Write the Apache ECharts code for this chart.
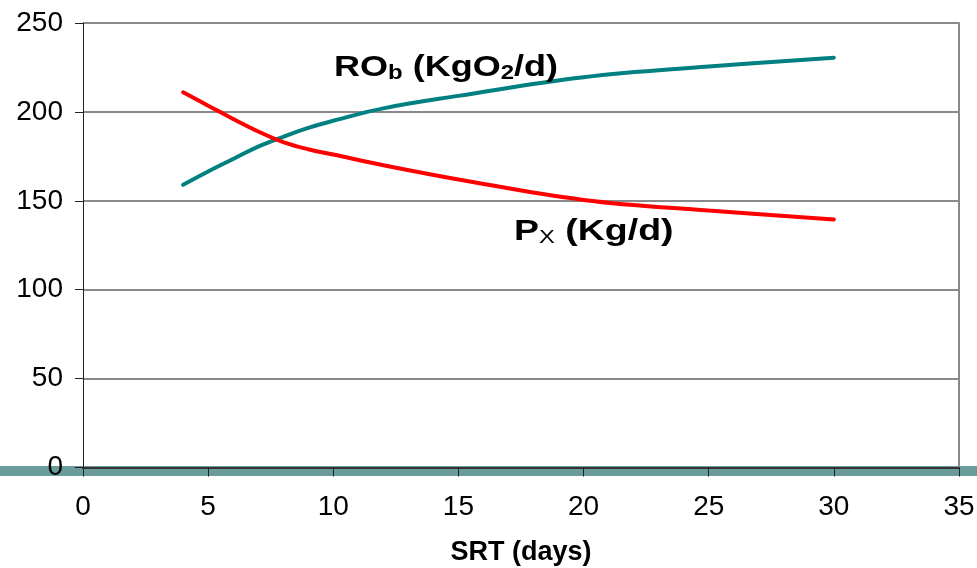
<!DOCTYPE html>
<html>
<head>
<meta charset="utf-8">
<script src="https://cdn.jsdelivr.net/npm/echarts@6/dist/echarts.min.js"></script>
<style>
html,body{margin:0;padding:0;background:#fff;}
#chart{width:977px;height:568px;}
</style>
</head>
<body>
<div id="chart"></div>
<script>
// Data
const srt = [4, 5, 6, 7, 8, 9, 10, 12, 15, 20, 25, 30];
const roB = [159, 166.5, 173.5, 180.5, 186, 191, 195, 202, 209, 219.5, 225.5, 230.5];
const pX  = [211, 203.5, 196, 189, 183, 179, 176, 170, 162, 150.5, 144.5, 139.5];
const xTicks = [0, 5, 10, 15, 20, 25, 30, 35];
const yTicks = [0, 50, 100, 150, 200, 250];

const FONT = '"Liberation Sans", Arial, sans-serif';
const chart = echarts.init(document.getElementById('chart'), null, {renderer: 'canvas'});

function pairs(xs, ys) { return xs.map((x, i) => [x, ys[i]]); }

const option = {
  animation: false,
  backgroundColor: '#ffffff',
  grid: {left: 83, right: 18, top: 23, bottom: 100.5, containLabel: false, outerBoundsMode: 'none'},
  xAxis: {
    type: 'value', min: xTicks[0], max: xTicks[xTicks.length - 1], interval: 5,
    name: 'SRT (days)', nameLocation: 'middle', nameGap: 72,
    nameTextStyle: {fontFamily: FONT, fontSize: 27, fontWeight: 'bold', color: '#000'},
    axisLine: {show: true, lineStyle: {color: '#333', width: 2}},
    axisTick: {show: true, inside: false, length: 9, lineStyle: {color: '#222', width: 1}},
    axisLabel: {fontFamily: FONT, fontSize: 28, color: '#000', margin: 26},
    splitLine: {show: false}
  },
  yAxis: [{
    type: 'value', min: yTicks[0], max: yTicks[yTicks.length - 1], interval: 50,
    axisLine: {show: true, lineStyle: {color: '#222', width: 1}},
    axisTick: {show: true, length: 8, lineStyle: {color: '#222', width: 1}},
    axisLabel: {fontFamily: FONT, fontSize: 28, color: '#000', margin: 20},
    splitLine: {show: true, lineStyle: {color: '#8a8a8a', width: 2}}
  }, {
    type: 'value', position: 'right', min: 0, max: 250, interval: 50,
    axisLine: {show: true, lineStyle: {color: '#8a8a8a', width: 2}},
    axisTick: {show: false}, axisLabel: {show: false}, splitLine: {show: false}
  }],
  graphic: [
    {type: 'rect', z: -1, silent: true, shape: {x: 0, y: 466, width: 977, height: 10},
     style: {fill: '#6a9c9b'}},
    {type: 'text', x: 334, y: 47, scaleX: 1.2, silent: true, z: 100,
     style: {
       text: '{m|RO}{s|b}{m| (KgO}{s|2}{m|/d)}',
       rich: {
         m: {fontFamily: FONT, fontSize: 30, fontWeight: 'bold', fill: '#000', lineHeight: 36, verticalAlign: 'bottom'},
         s: {fontFamily: FONT, fontSize: 20, fontWeight: 'bold', fill: '#000', lineHeight: 20, verticalAlign: 'bottom'}
       }
     }},
    {type: 'text', x: 514, y: 211, scaleX: 1.25, silent: true, z: 100,
     style: {
       text: '{m|P}{s|X}{m| (Kg/d)}',
       rich: {
         m: {fontFamily: FONT, fontSize: 30, fontWeight: 'bold', fill: '#000', lineHeight: 36, verticalAlign: 'bottom'},
         s: {fontFamily: FONT, fontSize: 19, fontWeight: 'normal', fill: '#000', lineHeight: 13, verticalAlign: 'bottom'}
       }
     }}
  ],
  series: [
    {name: 'ROb', type: 'line', data: pairs(srt, roB), smooth: 0.4, showSymbol: false,
     lineStyle: {color: '#008080', width: 4, cap: 'round'}, z: 3},
    {name: 'PX', type: 'line', data: pairs(srt, pX), smooth: 0.4, showSymbol: false,
     lineStyle: {color: '#ff0000', width: 4, cap: 'round'}, z: 4}
  ]
};
chart.setOption(option);
</script>
</body>
</html>
